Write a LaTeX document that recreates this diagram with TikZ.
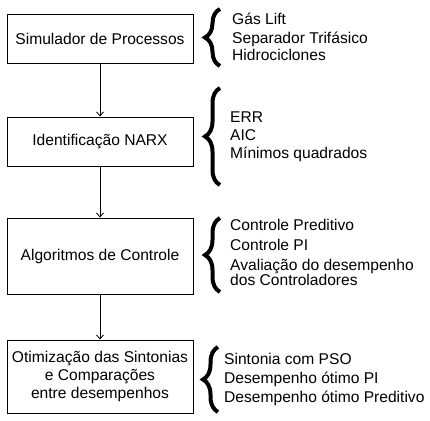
\documentclass[tikz,border=0pt]{standalone}
\usepackage{fontspec}
\setmainfont{Liberation Sans}
\usetikzlibrary{arrows.meta}
\usetikzlibrary{decorations.pathreplacing}
\tikzset{
	>={Straight Barb[length=4pt,width=7pt]},
	passo/.style={
		rectangle,
		draw=black, line width=1pt,
		minimum width=186pt,
		text centered,
		align=center,
		inner sep=0pt},
	seta/.style={draw, line width=0.8pt, ->},
	lista/.style={anchor=base west, inner sep=0pt},
	chave/.style={decorate, decoration={brace, amplitude=15pt}, line width=4pt},
}
\begin{document}
\begin{tikzpicture}[x=1pt, y=-1pt, font=\fontsize{15.6}{18}\selectfont]
	\useasboundingbox (0,0) rectangle (430,420);
	% etapas
	\node[passo, minimum height=48pt] (sim) at (100,39) {Simulador de Processos};
	\node[passo, minimum height=49pt] (narx) at (100,141.5) {Identificação NARX};
	\node[passo, minimum height=76pt] (ctrl) at (100,256) {Algoritmos de Controle};
	\node[passo, minimum height=73pt] (otim) at (100,376.5) {Otimização das Sintonias\\e Comparações\\entre desempenhos};
	\draw[seta] (sim) -- (narx);
	\draw[seta] (narx) -- (ctrl);
	\draw[seta] (ctrl) -- (otim);
	% chaves e listas
	\draw[chave] (220,66) -- (220,9);
	\foreach \txt/\yy [count=\i] in {Gás Lift/25, Separador Trifásico/43, Hidrociclones/60}
		\node[lista] (proc\i) at (232,\yy) {\txt};
	\draw[chave] (220,185) -- (220,88);
	\foreach \txt/\yy [count=\i] in {ERR/122, AIC/140, Mínimos quadrados/158}
		\node[lista] (ident\i) at (230,\yy) {\txt};
	\draw[chave] (220,292) -- (220,218);
	\foreach \txt/\yy [count=\i] in {Controle Preditivo/230, Controle PI/250, Avaliação do desempenho/270, dos Controladores/285}
		\node[lista] (alg\i) at (230,\yy) {\txt};
	\draw[chave] (218,412) -- (218,347);
	\foreach \txt/\yy [count=\i] in {Sintonia com PSO/364, Desempenho ótimo PI/383, Desempenho ótimo Preditivo/402}
		\node[lista] (sint\i) at (224,\yy) {\txt};
\end{tikzpicture}
\end{document}
